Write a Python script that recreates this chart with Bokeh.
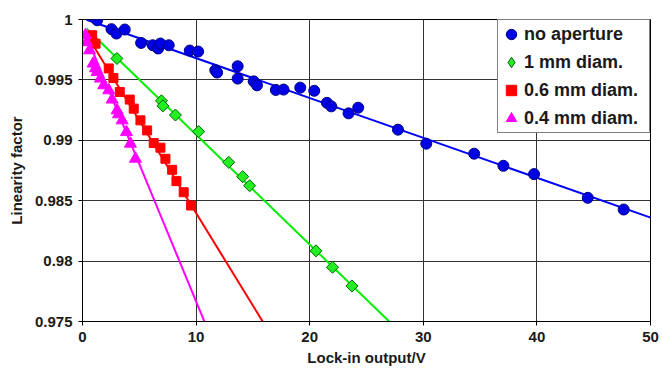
from bokeh.plotting import figure
from bokeh.models import FixedTicker, Legend, LegendItem
from bokeh.embed import file_html
from bokeh.resources import INLINE

# ---------------- data ----------------
x_ticks = [0, 10, 20, 30, 40, 50]
y_ticks = [0.975, 0.98, 0.985, 0.99, 0.995, 1.0]
y_tick_labels = ["0.975", "0.98", "0.985", "0.99", "0.995", "1"]

series_names = ["no aperture", "1 mm diam.", "0.6 mm diam.", "0.4 mm diam."]

x_none = [1.29, 2.55, 2.99, 3.72, 5.16, 6.18, 6.66, 6.86, 7.59, 9.44, 10.18, 11.69,
          11.85, 13.66, 13.66, 15.07, 15.36, 17.02, 17.70, 19.17, 20.40, 21.52, 21.90,
          23.42, 24.27, 27.77, 30.26, 34.48, 37.05, 39.75, 44.48, 47.64]
y_none = [0.99994, 0.99920, 0.99884, 0.99917, 0.99806, 0.99787, 0.99760, 0.99801,
          0.99787, 0.99743, 0.99735, 0.99580, 0.99561, 0.99613, 0.99511, 0.99488,
          0.99455, 0.99417, 0.99420, 0.99436, 0.99410, 0.99310, 0.99281, 0.99223,
          0.99270, 0.99088, 0.98972, 0.98889, 0.98789, 0.98720, 0.98524, 0.98427]

x_1mm = [3.03, 6.95, 7.08, 8.18, 10.22, 12.87, 14.10, 14.71, 20.55, 22.01, 23.72]
y_1mm = [0.99677, 0.99327, 0.99285, 0.99209, 0.99072, 0.98818, 0.98699, 0.98624,
         0.98085, 0.97949, 0.97794]

x_06mm = [0.85, 1.15, 2.31, 2.72, 3.28, 4.16, 4.51, 5.10, 5.69, 6.27, 6.86, 7.30,
          7.89, 8.27, 8.91, 9.56]
y_06mm = [0.99870, 0.99800, 0.99595, 0.99515, 0.99400, 0.99337, 0.99262, 0.99165,
          0.99082, 0.98977, 0.98939, 0.98847, 0.98756, 0.98662, 0.98570, 0.98460]

x_04mm = [0.26, 0.35, 0.62, 0.94, 1.14, 1.29, 1.58, 1.87, 2.31, 2.61, 3.05, 3.17,
          3.49, 3.87, 4.22, 4.66]
y_04mm = [0.99870, 0.99812, 0.99745, 0.99635, 0.99596, 0.99566, 0.99511, 0.99455,
          0.99414, 0.99337, 0.99248, 0.99215, 0.99165, 0.99068, 0.98972, 0.98847]

# linear fit lines (start x, intercept, slope)
fit_start = [0.35, 0.35, 0.35, 0.26]
fit_intercept = [1.0001, 0.99957, 0.9993, 0.99943]
fit_slope = [-0.00033, -0.00091, -0.001532, -0.002277]
fit_end = 60

# ---------------- styling ----------------
FONT = "Liberation Sans"
colors = ["#0000ff", "#00ee00", "#ff0000", "#ff00ff"]
fills = ["#0000e6", "#22ee22", "#ff0000", "#ff00ff"]
outlines = ["#000080", "#006600", "#ff0000", "#ff00ff"]
markers = ["circle", "square", "square", "triangle"]
legend_markers = ["circle", "diamond", "square", "triangle"]
sizes = [11, 8.5, 9, 12]
angles = [0, 0.785398, 0, 0]

p = figure(width=662, height=369, x_range=(0, 50), y_range=(0.975, 1.0),
           output_backend="svg", toolbar_location=None,
           min_border_left=82, min_border_right=12, min_border_top=19,
           min_border_bottom=48, background_fill_color="white",
           border_fill_color="white")

p.outline_line_color = "black"
p.outline_line_width = 1

p.xaxis.ticker = FixedTicker(ticks=x_ticks)
p.yaxis.ticker = FixedTicker(ticks=y_ticks)
p.yaxis.major_label_overrides = {v: s for v, s in zip(y_ticks, y_tick_labels)}

for ax in (p.xaxis, p.yaxis):
    ax.axis_line_color = "black"
    ax.major_tick_line_color = "black"
    ax.major_tick_out = 4
    ax.major_tick_in = 0
    ax.minor_tick_line_color = None
    ax.major_label_text_font = FONT
    ax.major_label_text_font_style = "bold"
    ax.major_label_text_font_size = "15px"
    ax.major_label_text_color = "#1a1a1a"
    ax.axis_label_text_font = FONT
    ax.axis_label_text_font_style = "bold"
    ax.axis_label_text_font_size = "15px"
    ax.axis_label_text_color = "#1a1a1a"

p.xaxis.axis_label = "Lock-in output/V"
p.yaxis.axis_label = "Linearity factor"
p.xaxis.major_label_standoff = 6
p.xaxis.axis_label_standoff = 4
p.yaxis.major_label_standoff = 6
p.yaxis.axis_label_standoff = 7

p.grid.grid_line_color = "#333333"
p.grid.grid_line_width = 1

data_x = [x_none, x_1mm, x_06mm, x_04mm]
data_y = [y_none, y_1mm, y_06mm, y_04mm]

for i in range(4):
    xs = [fit_start[i], fit_end]
    ys = [fit_intercept[i] + fit_slope[i] * xv for xv in xs]
    p.line(xs, ys, line_color=colors[i], line_width=2)

items = []
for i in range(4):
    r = p.scatter(data_x[i], data_y[i], marker=markers[i], size=sizes[i],
                  angle=angles[i], fill_color=fills[i], line_color=outlines[i],
                  line_width=1)
    if legend_markers[i] != markers[i]:
        # hidden twin used only for the legend symbol (legend glyphs ignore angle)
        r = p.scatter(data_x[i], data_y[i], marker=legend_markers[i], size=sizes[i],
                      fill_color=fills[i], line_color=outlines[i], line_width=1,
                      visible=False)
    items.append(LegendItem(label=series_names[i], renderers=[r]))

lg = Legend(items=items, location="top_right")
lg.margin = 0
lg.padding = 0
lg.spacing = 0
lg.glyph_width = 26
lg.glyph_height = 28
lg.label_height = 28
lg.label_width = 125
lg.label_standoff = 0
lg.border_line_color = "black"
lg.border_line_width = 1
lg.background_fill_color = "white"
lg.background_fill_alpha = 1
lg.label_text_font = FONT
lg.label_text_font_style = "bold"
lg.label_text_font_size = "18px"
lg.label_text_color = "#1a1a1a"
p.add_layout(lg, "center")

open("out.html", "w").write(file_html(p, INLINE))
